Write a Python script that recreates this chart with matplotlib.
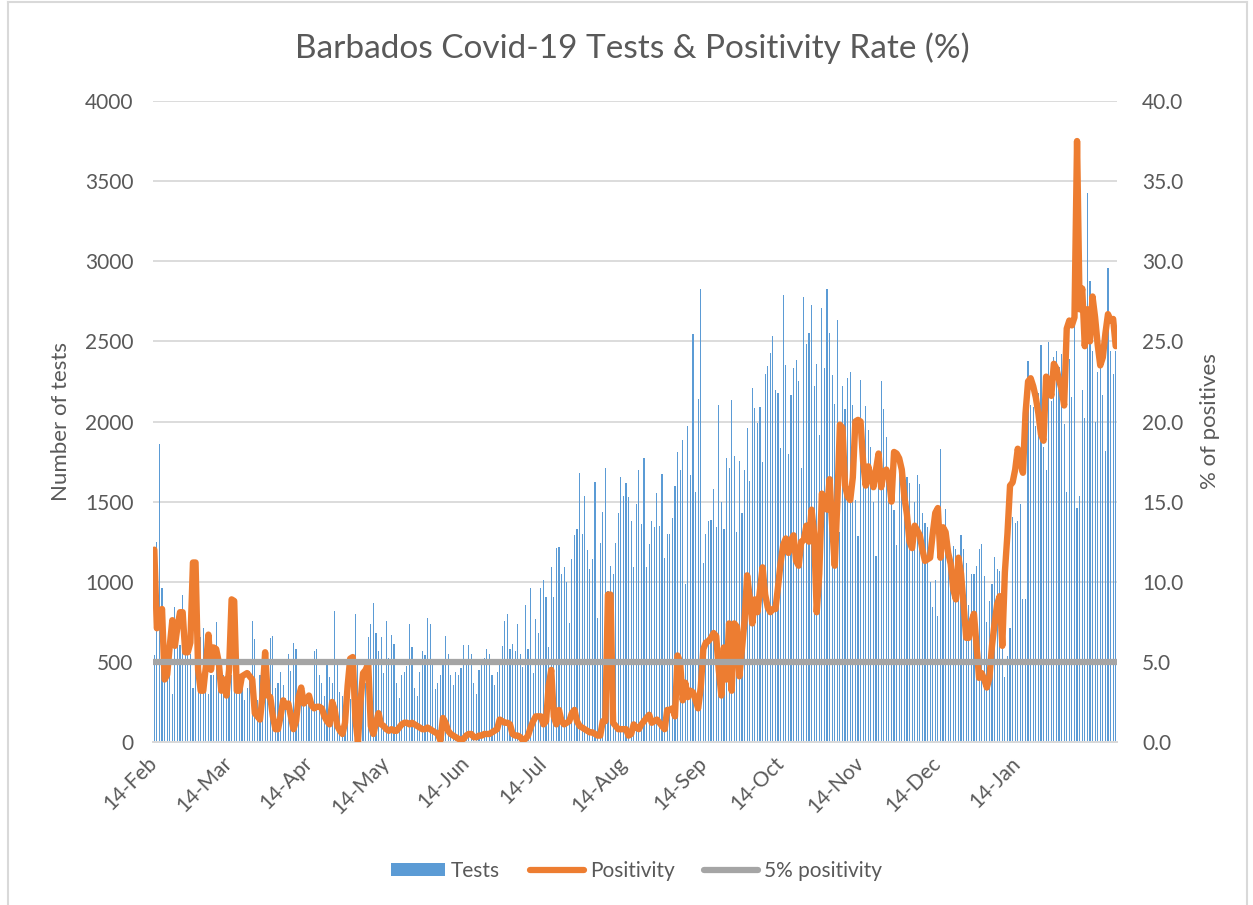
import matplotlib
matplotlib.use("Agg")
import matplotlib.pyplot as plt
import matplotlib.dates as mdates
from matplotlib.patches import Patch
from matplotlib.lines import Line2D
import pandas as pd
import numpy as np

# ---------------- data ----------------
start_date = "2020-02-14"

tests_feb_apr = [540, 1250, 1857, 960, 700, 525, 735, 300, 840, 815,
                 605, 920, 790, 580, 550, 340, 735, 710, 655, 710,
                 580, 300, 420, 420, 750, 340, 340, 420, 300, 340,
                 420, 580, 540, 395, 420, 260, 340, 445, 757, 645,
                 260, 420, 290, 275, 370, 650, 660, 340, 370, 435,
                 355, 275, 550, 445, 617, 583, 290, 260, 300]
tests_apr_jun = [260, 275, 290, 565, 580, 420, 370, 290, 485, 407,
                 370, 815, 485, 315, 290, 305, 300, 270, 320, 800,
                 485, 395, 435, 370, 655, 735, 867, 683, 565, 655,
                 433, 757, 525, 670, 610, 370, 275, 420, 435, 475,
                 735, 590, 340, 290, 435, 565, 540, 775, 735, 500,
                 330, 370, 420, 485, 660, 550, 420, 355, 435, 420,
                 460, 605, 480]
tests_jun_aug = [605, 550, 370, 300, 450, 510, 525, 583, 550, 420,
                 355, 435, 480, 600, 757, 800, 580, 610, 565, 735,
                 550, 470, 855, 580, 960, 433, 767, 683, 960, 1010,
                 905, 590, 1090, 905, 1210, 1215, 1050, 1090, 1000, 740,
                 1143, 1290, 1330, 1680, 1300, 1537, 1200, 1082, 1143, 1620,
                 775, 1240, 1437, 1707, 945, 1100, 1050, 1240, 1430, 1655,
                 1537, 1615, 1530]
tests_aug_oct = [1380, 1090, 1484, 1695, 1360, 1770, 1090, 1235, 1380, 1340,
                 1555, 1345, 1675, 1150, 1300, 1300, 1400, 1600, 1807, 1700,
                 1883, 985, 1975, 1668, 2548, 1558, 2140, 2824, 1116, 1300,
                 1380, 1387, 1581, 1340, 2100, 1500, 1327, 1770, 1707, 2133,
                 1786, 1308, 1755, 1432, 1700, 1962, 1629, 2207, 2083, 1989,
                 2088, 1747, 2299, 2349, 2430, 2535, 2194, 2180, 1834, 2790,
                 2351]
tests_oct_dec = [1800, 2167, 2333, 2385, 2254, 1707, 2780, 2482, 2554, 2724,
                 2220, 2359, 1918, 2711, 2333, 2824, 2554, 2291, 2107, 2632,
                 1313, 2220, 2075, 2272, 2312, 2102, 1510, 1287, 2259, 1970,
                 2096, 1944, 1839, 1497, 1161, 1800, 2254, 2075, 1905, 1655,
                 1602, 1445, 1229, 1707, 1695, 1589, 1655, 1615, 1327, 1497,
                 1668, 1610, 1432, 1366, 1340, 998, 841, 1011, 788, 1826,
                 1261, 1453]
tests_dec_feb = [1103, 1038, 1222, 1203, 1130, 1292, 1203, 1116, 854, 1050,
                 1050, 1098, 1203, 1235, 1038, 749, 880, 985, 1156, 1082,
                 1064, 880, 407, 539, 709, 1405, 1366, 1380, 1484, 893,
                 893, 2377, 2102, 2088, 1970, 2180, 2475, 1839, 1695, 2496,
                 2128, 2404, 2438, 2338, 2422, 1983, 1563, 2390, 2154, 2614,
                 1458, 1537, 2194, 2023, 3428, 2877, 2443, 2000, 2312, 2443,
                 2167, 1813, 2959, 2443, 2299, 2443]

pos_feb_apr = [12.0, 7.1, 7.6, 8.3, 3.9, 4.2, 6.0, 7.6, 6.0, 7.2,
               8.1, 8.1, 5.6, 5.6, 6.2, 11.2, 11.2, 4.5, 3.2, 3.2,
               4.7, 6.7, 4.5, 5.9, 5.8, 5.0, 3.2, 3.9, 2.9, 4.5,
               8.9, 8.8, 3.2, 3.2, 4.1, 4.2, 4.3, 4.1, 3.9, 1.8,
               1.6, 1.4, 2.9, 5.6, 2.9, 2.8, 1.6, 0.8, 0.8, 1.6,
               2.6, 2.2, 2.4, 1.6, 0.8, 1.3, 2.8, 3.4, 2.4]
pos_apr_jun = [2.6, 2.9, 2.3, 2.1, 2.2, 2.2, 2.1, 1.6, 1.3, 1.1,
               2.5, 2.0, 1.0, 0.7, 0.5, 1.2, 3.5, 5.2, 5.3, 1.5,
               0.0, 2.5, 4.3, 4.5, 4.9, 1.0, 0.5, 1.2, 1.8, 1.1,
               1.0, 0.8, 0.7, 0.8, 0.7, 0.7, 0.9, 1.1, 1.2, 1.2,
               1.1, 1.2, 1.1, 1.0, 0.9, 0.8, 0.8, 0.9, 0.8, 0.7,
               0.6, 0.5, 0.1, 1.5, 1.2, 0.7, 0.5, 0.4, 0.3, 0.2,
               0.1, 0.2, 0.4]
pos_jun_aug = [0.5, 0.5, 0.3, 0.3, 0.4, 0.4, 0.5, 0.5, 0.5, 0.6,
               0.7, 0.8, 1.4, 1.3, 1.2, 1.2, 1.1, 0.5, 0.4, 0.4,
               0.3, 0.1, 0.2, 0.4, 0.9, 1.3, 1.6, 1.6, 1.6, 1.1,
               1.3, 3.5, 4.5, 1.6, 1.1, 2.0, 1.3, 1.1, 1.2, 1.3,
               1.8, 2.0, 1.3, 1.0, 0.9, 0.8, 0.7, 0.6, 0.6, 0.5,
               0.4, 0.4, 1.3, 1.3, 9.2, 9.2, 1.2, 1.0, 0.8, 0.8]
pos_aug_oct = [0.8, 0.8, 0.4, 0.5, 1.1, 0.9, 0.8, 1.1, 1.3, 1.5,
               1.7, 1.2, 1.3, 1.4, 1.2, 1.0, 0.8, 2.0, 2.0, 2.1,
               1.6, 5.4, 5.0, 2.6, 3.7, 2.8, 3.2, 3.1, 2.6, 2.1,
               3.4, 5.8, 6.2, 6.3, 6.5, 6.8, 6.6, 4.5, 2.9, 5.9,
               3.9, 7.4, 3.2, 7.4, 7.2, 4.1, 5.8, 7.6, 10.4, 9.0,
               7.4, 8.9, 8.1, 9.5, 10.9, 9.2, 8.4, 8.1, 8.3, 8.3,
               9.7, 11.2, 12.3, 12.7]
pos_oct_dec = [11.8, 12.6, 12.9, 11.3, 11.0, 12.5, 12.6, 13.5, 12.5, 14.5,
               13.0, 8.1, 10.5, 15.5, 15.0, 14.5, 16.4, 13.5, 11.0, 15.0,
               19.8, 19.6, 16.0, 15.3, 15.1, 16.5, 20.0, 20.1, 20.0, 17.5,
               16.0, 17.2, 16.5, 15.9, 17.0, 18.0, 15.9, 16.8, 17.0, 16.5,
               15.0, 18.1, 18.0, 17.7, 17.0, 15.3, 14.2, 12.5, 12.1, 13.5,
               13.2, 12.9, 12.0, 11.3, 11.4, 11.5, 13.0, 14.3, 14.6, 11.5]
pos_dec_feb = [13.4, 13.1, 11.8, 11.1, 9.5, 8.9, 11.5, 10.5, 8.5, 6.5,
               6.5, 7.5, 8.0, 6.0, 4.0, 4.3, 3.9, 3.4, 4.0, 6.0,
               7.4, 8.6, 9.1, 6.0, 10.6, 13.0, 16.0, 16.2, 17.0, 18.3,
               17.5, 16.8, 20.5, 22.5, 22.7, 22.2, 21.5, 20.5, 19.2, 18.8,
               22.8, 22.6, 21.6, 23.6, 23.3, 22.6, 22.0, 21.0, 25.8, 26.3,
               26.0, 26.5, 37.5, 27.0, 28.3, 24.7, 27.0, 25.0, 27.8, 26.5,
               24.8, 23.5, 24.0, 25.5, 26.7, 26.3, 26.4, 24.7]

threshold_pct = 5.0

tests = (tests_feb_apr + tests_apr_jun + tests_jun_aug + tests_aug_oct
         + tests_oct_dec + tests_dec_feb)
positivity = (pos_feb_apr + pos_apr_jun + pos_jun_aug + pos_aug_oct
              + pos_oct_dec + pos_dec_feb)

dates = pd.date_range(start_date, periods=len(tests), freq="D")
tick_dates = pd.date_range("2020-02-14", "2021-01-14", freq=pd.DateOffset(months=1))

# ---------------- style ----------------
FONT = ["Lato", "DejaVu Sans"]
plt.rcParams["font.family"] = FONT
TXT = "#595959"
BLUE = "#5B9BD5"
ORANGE = "#ED7D31"
GRAY = "#A5A5A5"
GRID = "#D9D9D9"

W, H = 1253, 905
fig = plt.figure(figsize=(W / 100, H / 100), dpi=100)
fig.patch.set_facecolor("white")

L, R, T, B = 153, 1117, 101, 742
ax = fig.add_axes([L / W, 1 - B / H, (R - L) / W, (B - T) / H])
ax2 = ax.twinx()

x = mdates.date2num(dates)
ax.bar(x, tests, width=0.45, color=BLUE, linewidth=0, zorder=2)
ax.set_ylim(0, 4000)
ax.set_yticks(np.arange(0, 4001, 500))
ax.set_xlim(x[0] - 0.5, x[-1] + 0.5)
ax.grid(axis="y", color=GRID, linewidth=1.3, zorder=0)
ax.set_axisbelow(True)

ax2.plot(x, positivity, color=ORANGE, linewidth=4.6, solid_joinstyle="round",
         solid_capstyle="round", zorder=3)
ax2.plot(x, [threshold_pct] * len(x), color=GRAY, linewidth=4.5, zorder=4)
ax2.set_ylim(0, 40)
ax2.set_yticks(np.arange(0, 40.1, 5))
ax2.yaxis.set_major_formatter(matplotlib.ticker.FormatStrFormatter("%.1f"))
ax2.set_xlim(x[0] - 0.5, x[-1] + 0.5)

for a in (ax, ax2):
    for s in ("top", "right", "left"):
        a.spines[s].set_visible(False)
    a.spines["bottom"].set_color(GRID)
    a.spines["bottom"].set_linewidth(1.3)

ax.tick_params(axis="y", length=0, pad=14, labelsize=15, labelcolor=TXT)
ax2.tick_params(axis="y", length=0, pad=18, labelsize=15, labelcolor=TXT)
ax2.tick_params(axis="x", length=0)

ax.set_xticks(mdates.date2num(tick_dates))
ax.set_xticklabels([d.strftime("%d-%b") for d in tick_dates])
ax.tick_params(axis="x", length=0, pad=13, labelsize=15, labelcolor=TXT)
for lab in ax.get_xticklabels():
    lab.set_rotation(45)
    lab.set_ha("right")
    lab.set_va("center")
    lab.set_rotation_mode("anchor")

ax.set_ylabel("Number of tests", fontsize=16, color=TXT, labelpad=10)
ax2.set_ylabel("% of positives", fontsize=16, color=TXT, labelpad=12)

fig.text(0.505, 1 - 48 / H, "Barbados Covid-19 Tests & Positivity Rate (%)",
         ha="center", va="center", fontsize=24, color=TXT)

handles = [Patch(facecolor=BLUE, edgecolor="none"),
           Line2D([0], [0], color=ORANGE, linewidth=4.5, solid_capstyle="round"),
           Line2D([0], [0], color=GRAY, linewidth=4.5, solid_capstyle="round")]
fig.legend(handles, ["Tests", "Positivity", "5% positivity"], loc="center",
           bbox_to_anchor=(0.508, 1 - 871 / H), ncol=3, frameon=False,
           fontsize=15, labelcolor=TXT, handlelength=2.6, handleheight=0.6,
           handletextpad=0.3, columnspacing=1.4)

# chart-area border
fig.add_artist(Line2D([8 / W, 8 / W], [0, 1 - 2 / H], color=GRID, lw=1.5))
fig.add_artist(Line2D([8 / W, 1247 / W], [1 - 2 / H, 1 - 2 / H], color=GRID, lw=1.5))
fig.add_artist(Line2D([1247 / W, 1247 / W], [0, 1 - 2 / H], color=GRID, lw=1.5))

fig.savefig("out.png", dpi=100, facecolor="white")
